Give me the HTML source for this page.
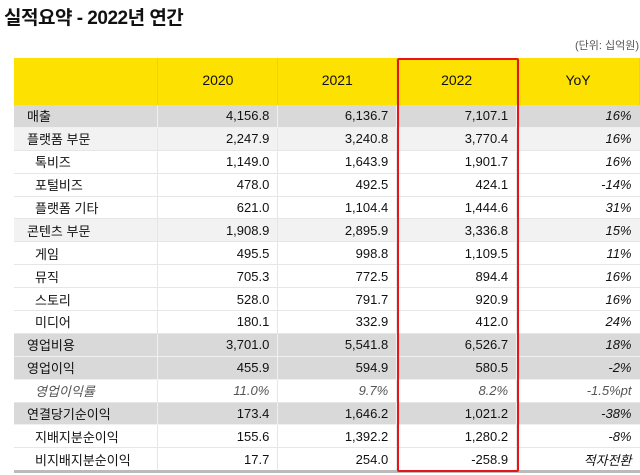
<!DOCTYPE html>
<html><head><meta charset="utf-8"><style>
body{margin:0;width:640px;height:475px;background:#fff;overflow:hidden;position:relative;font-family:"Liberation Sans","Noto Sans CJK KR",sans-serif;color:#111}
.t{position:absolute;left:4px;top:3px;font-size:19px;font-weight:bold;color:#111;letter-spacing:-0.5px}
.u{position:absolute;right:1px;top:37px;font-size:11px;color:#555}
table{position:absolute;left:14px;top:58px;border-collapse:collapse;table-layout:fixed;font-size:13px}
td{height:21.9px;padding:0;border-bottom:1px solid #e6e6e6;border-right:1px solid #e6e6e6;text-align:right;padding-right:8px;white-space:nowrap}
td:first-child{text-align:left;padding-left:13px;padding-right:0}
td:last-child{border-right:none}
tr.h td{background:#fde100;height:43px;text-align:center;padding:0 0 4px 0;font-size:14px;border-right:1px solid #eed400;border-bottom:none}
tr.g td{background:#d9d9d9;border-color:#f0f0f0}
tr.l td{background:#f2f2f2}
tr.s td:first-child{padding-left:21px}
tr.i td{font-style:italic;color:#555}
td.y{font-style:italic}
tr:last-child td{border-bottom:3px solid #bbb}
.r{position:absolute;left:397px;top:58px;width:118px;height:410px;border:2px solid #e8141a;border-radius:2px}
</style></head><body>
<div class="t">실적요약 - 2022년 연간</div>
<div class="u">(단위: 십억원)</div>
<table>
<colgroup><col style="width:144px"><col style="width:120px"><col style="width:119px"><col style="width:120px"><col style="width:123px"></colgroup>
<tr class="h"><td></td><td>2020</td><td>2021</td><td>2022</td><td>YoY</td></tr>
<tr class="g"><td>매출</td><td>4,156.8</td><td>6,136.7</td><td>7,107.1</td><td class="y">16%</td></tr>
<tr class="l"><td>플랫폼 부문</td><td>2,247.9</td><td>3,240.8</td><td>3,770.4</td><td class="y">16%</td></tr>
<tr class="s"><td>톡비즈</td><td>1,149.0</td><td>1,643.9</td><td>1,901.7</td><td class="y">16%</td></tr>
<tr class="s"><td>포털비즈</td><td>478.0</td><td>492.5</td><td>424.1</td><td class="y">-14%</td></tr>
<tr class="s"><td>플랫폼 기타</td><td>621.0</td><td>1,104.4</td><td>1,444.6</td><td class="y">31%</td></tr>
<tr class="l"><td>콘텐츠 부문</td><td>1,908.9</td><td>2,895.9</td><td>3,336.8</td><td class="y">15%</td></tr>
<tr class="s"><td>게임</td><td>495.5</td><td>998.8</td><td>1,109.5</td><td class="y">11%</td></tr>
<tr class="s"><td>뮤직</td><td>705.3</td><td>772.5</td><td>894.4</td><td class="y">16%</td></tr>
<tr class="s"><td>스토리</td><td>528.0</td><td>791.7</td><td>920.9</td><td class="y">16%</td></tr>
<tr class="s"><td>미디어</td><td>180.1</td><td>332.9</td><td>412.0</td><td class="y">24%</td></tr>
<tr class="g"><td>영업비용</td><td>3,701.0</td><td>5,541.8</td><td>6,526.7</td><td class="y">18%</td></tr>
<tr class="g"><td>영업이익</td><td>455.9</td><td>594.9</td><td>580.5</td><td class="y">-2%</td></tr>
<tr class="s i"><td>영업이익률</td><td>11.0%</td><td>9.7%</td><td>8.2%</td><td class="y">-1.5%pt</td></tr>
<tr class="g"><td>연결당기순이익</td><td>173.4</td><td>1,646.2</td><td>1,021.2</td><td class="y">-38%</td></tr>
<tr class="s"><td>지배지분순이익</td><td>155.6</td><td>1,392.2</td><td>1,280.2</td><td class="y">-8%</td></tr>
<tr class="s"><td>비지배지분순이익</td><td>17.7</td><td>254.0</td><td>-258.9</td><td class="y">적자전환</td></tr>
</table>
<div class="r"></div>
</body></html>
